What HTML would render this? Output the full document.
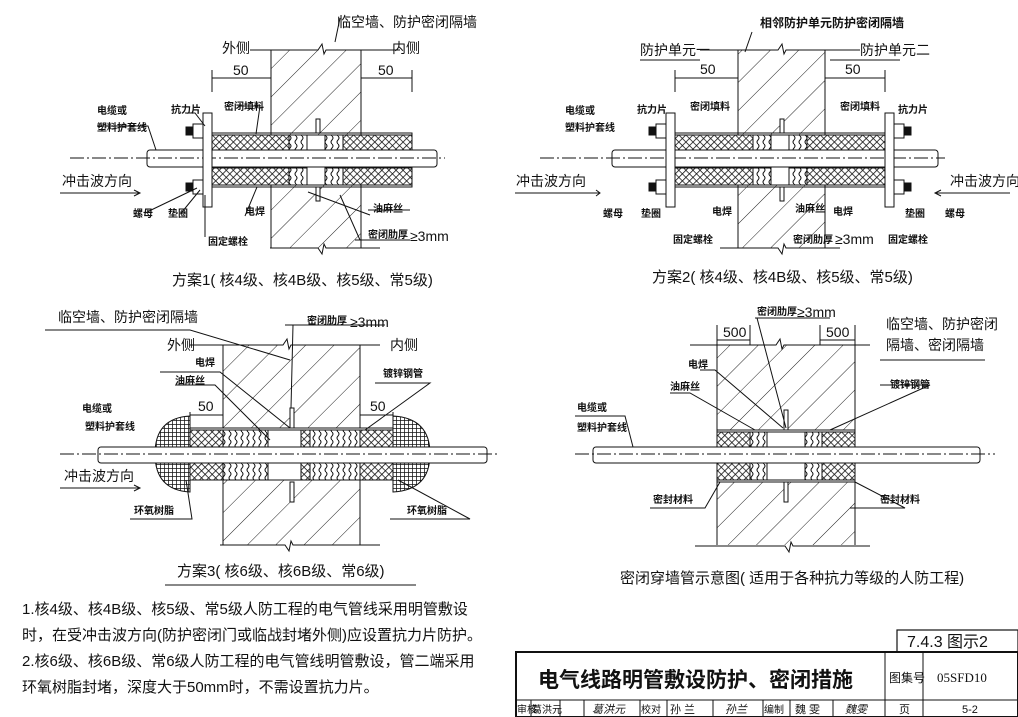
<!DOCTYPE html>
<html><head><meta charset="utf-8"><style>
html,body{margin:0;padding:0;background:#fff}
svg{display:block}
text{font-family:"Liberation Sans","Noto Sans CJK SC",sans-serif;fill:#111}
.s{font-size:10px;font-weight:bold}
.m{font-size:14px}
.c{font-size:15px}
</style></head><body>
<svg width="1018" height="717" viewBox="0 0 1018 717" xmlns="http://www.w3.org/2000/svg">
<defs>
<pattern id="h" width="20" height="20" patternUnits="userSpaceOnUse" patternTransform="rotate(45)">
<line x1="0" y1="0" x2="0" y2="20" stroke="#222" stroke-width="1"/></pattern>
<pattern id="x" width="5" height="5" patternUnits="userSpaceOnUse" patternTransform="rotate(45)">
<rect width="5" height="5" fill="#fff"/><path d="M0 0H5M0 0V5" stroke="#111" stroke-width="1.6"/></pattern>
<pattern id="g" width="4" height="4" patternUnits="userSpaceOnUse">
<rect width="4" height="4" fill="#fff"/><path d="M0 0H4M0 0V4" stroke="#111" stroke-width="1.5"/></pattern>
<pattern id="w" width="6" height="8" patternUnits="userSpaceOnUse">
<rect width="6" height="8" fill="#fff"/><path d="M2 0q2 2 0 4q-2 2 0 4" stroke="#111" fill="none"/></pattern>
</defs>
<g stroke="#111" fill="none" stroke-width="1">
<!-- ===== Scheme 1 ===== -->
<rect x="271" y="50" width="90" height="198" fill="url(#h)" stroke="none"/>
<line x1="271" y1="50" x2="271" y2="248"/><line x1="361" y1="50" x2="361" y2="248"/>
<path d="M250 50H318l4-6 2 10 2-4H400"/><path d="M270 248H318l4 6 2-10 2 4H380"/>
<path d="M212 70V92M212 78H271M361 78H412M412 70V92"/>
<rect x="210" y="135" width="202" height="50" fill="#fff"/>
<rect x="210" y="135" width="202" height="15" fill="url(#x)"/>
<rect x="210" y="168" width="202" height="17" fill="url(#x)"/>
<rect x="289" y="135" width="54" height="50" fill="#fff"/>
<rect x="289" y="135" width="18" height="15" fill="url(#w)"/><rect x="325" y="135" width="18" height="15" fill="url(#w)"/>
<rect x="289" y="168" width="18" height="17" fill="url(#w)"/><rect x="325" y="168" width="18" height="17" fill="url(#w)"/>
<rect x="210" y="133" width="202" height="54"/>
<rect x="147" y="150" width="290" height="17" rx="3" fill="#fff"/>
<path d="M70 158H445" stroke-dasharray="14 3 2 3"/>
<rect x="203" y="113" width="9" height="94" fill="#fff"/>
<rect x="193" y="124" width="10" height="14" fill="#fff"/><rect x="186" y="127" width="7" height="8" fill="#111"/>
<rect x="193" y="180" width="10" height="14" fill="#fff"/><rect x="186" y="183" width="7" height="8" fill="#111"/>
<rect x="316" y="119" width="4" height="14" fill="#fff"/><rect x="316" y="187" width="4" height="14" fill="#fff"/>
<path d="M60 193H140"/><path d="M134 190l6 3-6 3"/>
<path d="M97 126H148l8 24M185 113H195l10 13M240 106H260l-4 28M147 212L197 188M182 212L200 190M205 237V195M245 216L257 187M368 210H410M308 192L370 215M355 240H410M340 195L360 240M340 18L335 42"/>
<!-- ===== Scheme 2 ===== -->
<rect x="738" y="50" width="87" height="198" fill="url(#h)" stroke="none"/>
<line x1="738" y1="50" x2="738" y2="248"/><line x1="825" y1="50" x2="825" y2="248"/>
<path d="M700 50H778l4-6 2 10 2-4H860"/><path d="M720 248H778l4 6 2-10 2 4H840"/>
<path d="M675 70V92M675 78H738M825 78H885M885 70V92"/>
<rect x="675" y="135" width="210" height="50" fill="#fff"/>
<rect x="675" y="135" width="210" height="15" fill="url(#x)"/>
<rect x="675" y="168" width="210" height="17" fill="url(#x)"/>
<rect x="753" y="135" width="54" height="50" fill="#fff"/>
<rect x="753" y="135" width="18" height="15" fill="url(#w)"/><rect x="789" y="135" width="18" height="15" fill="url(#w)"/>
<rect x="753" y="168" width="18" height="17" fill="url(#w)"/><rect x="789" y="168" width="18" height="17" fill="url(#w)"/>
<rect x="675" y="133" width="210" height="54"/>
<rect x="612" y="150" width="326" height="17" rx="3" fill="#fff"/>
<path d="M540 158H945" stroke-dasharray="14 3 2 3"/>
<rect x="666" y="113" width="9" height="94" fill="#fff"/><rect x="885" y="113" width="9" height="94" fill="#fff"/>
<rect x="656" y="124" width="10" height="14" fill="#fff"/><rect x="649" y="127" width="7" height="8" fill="#111"/>
<rect x="656" y="180" width="10" height="14" fill="#fff"/><rect x="649" y="183" width="7" height="8" fill="#111"/>
<rect x="894" y="124" width="10" height="14" fill="#fff"/><rect x="904" y="127" width="7" height="8" fill="#111"/>
<rect x="894" y="180" width="10" height="14" fill="#fff"/><rect x="904" y="183" width="7" height="8" fill="#111"/>
<rect x="780" y="119" width="4" height="14" fill="#fff"/><rect x="780" y="187" width="4" height="14" fill="#fff"/>
<path d="M515 193H600M596 190l4 3-4 3M935 193H1010M941 190l-6 3 6 3"/>
<path d="M640 60H700M830 60H900M752 32L745 52"/>
<!-- ===== Scheme 3 ===== -->
<rect x="223" y="345" width="137" height="200" fill="url(#h)" stroke="none"/>
<line x1="223" y1="345" x2="223" y2="545"/><line x1="360" y1="345" x2="360" y2="545"/>
<path d="M190 345H283l4-6 2 10 2-4H380"/><path d="M220 545H285l4 6 2-10 2 4H380"/>
<path d="M45 330H190L290 360"/>
<path d="M190 412V425M190 415H223M360 415H393M393 412V425"/>
<path d="M155 454Q155 418 190 416V492Q155 490 155 454Z" fill="url(#g)"/>
<path d="M430 454Q430 418 393 416V492Q430 490 430 454Z" fill="url(#g)"/>
<rect x="190" y="428" width="203" height="52" fill="#fff"/>
<rect x="190" y="430" width="203" height="18" fill="url(#x)"/><rect x="190" y="463" width="203" height="17" fill="url(#x)"/>
<rect x="223" y="430" width="78" height="50" fill="#fff"/>
<rect x="223" y="430" width="45" height="18" fill="url(#w)"/><rect x="310" y="430" width="50" height="18" fill="url(#w)"/>
<rect x="223" y="463" width="45" height="17" fill="url(#w)"/><rect x="310" y="463" width="50" height="17" fill="url(#w)"/>
<rect x="190" y="428" width="203" height="52"/>
<rect x="98" y="447" width="389" height="16" rx="3" fill="#fff"/>
<path d="M60 454H500" stroke-dasharray="14 3 2 3"/>
<rect x="290" y="408" width="4" height="20" fill="#fff"/><rect x="290" y="482" width="4" height="20" fill="#fff"/>
<path d="M60 488H140M134 485l6 3-6 3"/>
<path d="M285 325H385M293 325L291 408M160 372H220L290 428M175 385H215L270 440M375 383H430L365 430M130 519H192L186 480M390 519H470L398 480"/>
<!-- ===== Scheme 4 ===== -->
<rect x="717" y="345" width="138" height="200" fill="url(#h)" stroke="none"/>
<line x1="717" y1="345" x2="717" y2="545"/><line x1="855" y1="345" x2="855" y2="545"/>
<path d="M690 345H776l4-6 2 10 2-4H870"/><path d="M695 546H785l4 6 2-10 2 4H870"/>
<path d="M717 325V345M750 325V345M717 340H750M820 325V345M855 325V345M820 340H855"/>
<rect x="717" y="430" width="138" height="52" fill="#fff"/>
<rect x="717" y="432" width="138" height="15" fill="url(#x)"/><rect x="717" y="463" width="138" height="17" fill="url(#x)"/>
<rect x="767" y="432" width="55" height="48" fill="#fff"/>
<rect x="750" y="432" width="17" height="15" fill="url(#w)"/><rect x="805" y="432" width="17" height="15" fill="url(#w)"/>
<rect x="750" y="463" width="17" height="17" fill="url(#w)"/><rect x="805" y="463" width="17" height="17" fill="url(#w)"/>
<rect x="767" y="432" width="38" height="48" fill="#fff"/>
<rect x="717" y="430" width="138" height="52"/>
<rect x="593" y="447" width="387" height="16" rx="3" fill="#fff"/>
<path d="M575 454H995" stroke-dasharray="14 3 2 3"/>
<rect x="784" y="410" width="4" height="20" fill="#fff"/><rect x="784" y="482" width="4" height="20" fill="#fff"/>
<path d="M755 318H830M757 318L786 428M700 370H715L783 428M670 393H690L755 430M880 385H930L830 430M575 416H625L633 447M650 508H705L720 482M850 508H905L855 482M880 360H985"/>
</g>
<!-- Text scheme1 -->
<text x="337" y="27" class="m">临空墙、防护密闭隔墙</text>
<text x="222" y="53" class="m">外侧</text><text x="392" y="53" class="m">内侧</text>
<text x="233" y="75" class="m">50</text><text x="378" y="75" class="m">50</text>
<text x="97" y="114" class="s">电缆或</text><text x="97" y="131" class="s">塑料护套线</text>
<text x="171" y="113" class="s">抗力片</text><text x="224" y="110" class="s">密闭填料</text>
<text x="62" y="186" class="m">冲击波方向</text>
<text x="133" y="217" class="s">螺母</text><text x="168" y="217" class="s">垫圈</text>
<text x="245" y="215" class="s">电焊</text><text x="373" y="212" class="s">油麻丝</text>
<text x="208" y="245" class="s">固定螺栓</text><text x="368" y="238" class="s">密闭肋厚</text><text x="410" y="241" class="m">≥3mm</text>
<text x="172" y="285" class="c">方案1( 核4级、核4B级、核5级、常5级)</text>
<!-- scheme2 -->
<text x="760" y="27" class="s" style="font-size:12px">相邻防护单元防护密闭隔墙</text>
<text x="640" y="55" class="m">防护单元一</text><text x="860" y="55" class="m">防护单元二</text>
<text x="700" y="74" class="m">50</text><text x="845" y="74" class="m">50</text>
<text x="565" y="114" class="s">电缆或</text><text x="565" y="131" class="s">塑料护套线</text>
<text x="637" y="113" class="s">抗力片</text><text x="690" y="110" class="s">密闭填料</text>
<text x="840" y="110" class="s">密闭填料</text><text x="898" y="113" class="s">抗力片</text>
<text x="516" y="186" class="m">冲击波方向</text><text x="950" y="186" class="m">冲击波方向</text>
<text x="603" y="217" class="s">螺母</text><text x="641" y="217" class="s">垫圈</text>
<text x="712" y="215" class="s">电焊</text><text x="795" y="212" class="s">油麻丝</text><text x="833" y="215" class="s">电焊</text>
<text x="905" y="217" class="s">垫圈</text><text x="945" y="217" class="s">螺母</text>
<text x="673" y="243" class="s">固定螺栓</text><text x="793" y="243" class="s">密闭肋厚</text><text x="835" y="244" class="m">≥3mm</text>
<text x="888" y="243" class="s">固定螺栓</text>
<text x="652" y="282" class="c">方案2( 核4级、核4B级、核5级、常5级)</text>
<!-- scheme3 -->
<text x="58" y="322" class="m">临空墙、防护密闭隔墙</text>
<text x="307" y="324" class="s">密闭肋厚</text><text x="350" y="327" class="m">≥3mm</text>
<text x="167" y="350" class="m">外侧</text><text x="390" y="350" class="m">内侧</text>
<text x="195" y="366" class="s">电焊</text><text x="175" y="384" class="s">油麻丝</text>
<text x="383" y="377" class="s">镀锌钢管</text>
<text x="198" y="411" class="m">50</text><text x="370" y="411" class="m">50</text>
<text x="82" y="412" class="s">电缆或</text><text x="85" y="430" class="s">塑料护套线</text>
<text x="64" y="481" class="m">冲击波方向</text>
<text x="134" y="514" class="s">环氧树脂</text><text x="407" y="514" class="s">环氧树脂</text>
<text x="177" y="576" class="c">方案3( 核6级、核6B级、常6级)</text>
<line x1="165" y1="585" x2="416" y2="585" stroke="#111"/>
<!-- scheme4 -->
<text x="757" y="315" class="s">密闭肋厚</text><text x="797" y="317" class="m">≥3mm</text>
<text x="723" y="337" class="m">500</text><text x="826" y="337" class="m">500</text>
<text x="886" y="329" class="m">临空墙、防护密闭</text><text x="886" y="350" class="m">隔墙、密闭隔墙</text>
<text x="688" y="368" class="s">电焊</text><text x="670" y="390" class="s">油麻丝</text>
<text x="890" y="388" class="s">镀锌钢管</text>
<text x="577" y="411" class="s">电缆或</text><text x="577" y="431" class="s">塑料护套线</text>
<text x="653" y="503" class="s">密封材料</text><text x="880" y="503" class="s">密封材料</text>
<text x="620" y="583" class="c">密闭穿墙管示意图( 适用于各种抗力等级的人防工程)</text>
<!-- notes -->
<text x="22" y="614" class="c">1.核4级、核4B级、核5级、常5级人防工程的电气管线采用明管敷设</text>
<text x="22" y="640" class="c">时，在受冲击波方向(防护密闭门或临战封堵外侧)应设置抗力片防护。</text>
<text x="22" y="666" class="c">2.核6级、核6B级、常6级人防工程的电气管线明管敷设，管二端采用</text>
<text x="22" y="692" class="c">环氧树脂封堵，深度大于50mm时，不需设置抗力片。</text>
<!-- title block -->
<g stroke="#111" fill="none">
<rect x="897" y="630" width="121" height="22" stroke-width="1.2"/>
<rect x="516" y="652" width="502" height="65" stroke-width="2"/>
<line x1="516" y1="700" x2="1018" y2="700"/>
<line x1="885" y1="652" x2="885" y2="717"/><line x1="923" y1="652" x2="923" y2="717"/>
<path d="M531 700V717M560 700V717M584 700V717M640 700V717M667 700V717M713 700V717M763 700V717M790 700V717M833 700V717"/>
</g>
<text x="907" y="647" style="font-size:16px">7.4.3 图示2</text>
<text x="538" y="687" style="font-size:21px;font-weight:bold">电气线路明管敷设防护、密闭措施</text>
<text x="889" y="682" style="font-size:12px">图集号</text>
<text x="937" y="682" style="font-size:13px;font-family:'Liberation Serif',serif">05SFD10</text>
<text x="517" y="713" style="font-size:10px">审核</text><text x="532" y="713" style="font-size:10px">葛洪元</text>
<text x="592" y="713" style="font-size:11px;font-style:italic">葛洪元</text>
<text x="641" y="713" style="font-size:10px">校对</text><text x="670" y="713" style="font-size:11px">孙 兰</text>
<text x="725" y="713" style="font-size:11px;font-style:italic">孙兰</text>
<text x="764" y="713" style="font-size:10px">编制</text><text x="795" y="713" style="font-size:11px">魏 雯</text>
<text x="845" y="713" style="font-size:11px;font-style:italic">魏雯</text>
<text x="899" y="713" style="font-size:11px">页</text><text x="962" y="713" style="font-size:11px">5-2</text>
</svg>
</body></html>
